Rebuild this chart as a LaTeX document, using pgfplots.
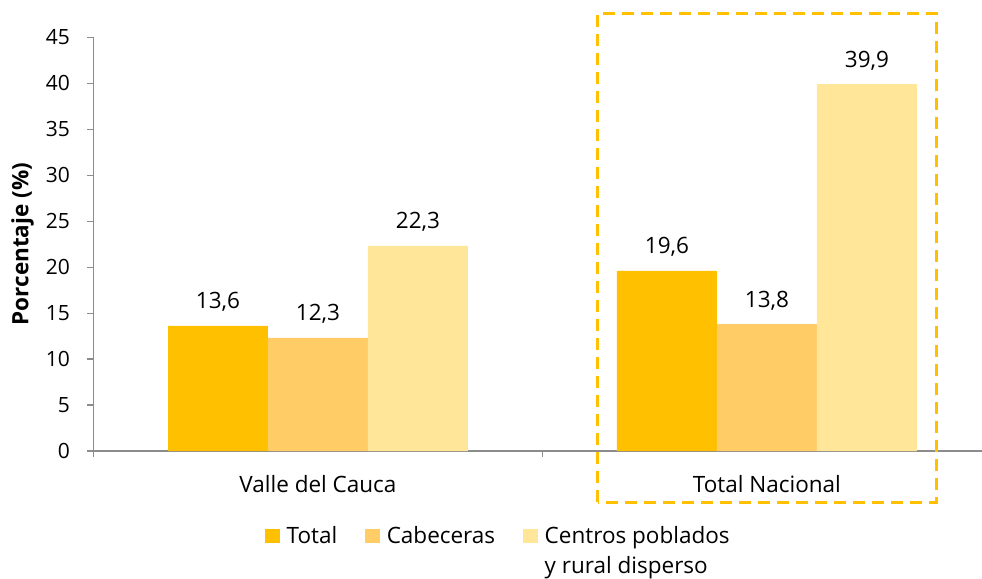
\documentclass[border=0pt]{standalone}
\usepackage{fontspec}
\setmainfont{Open Sans}
\usepackage{pgfplots}
\pgfplotsset{compat=1.18}
\definecolor{cTotal}{HTML}{FFC000}
\definecolor{cCab}{HTML}{FFCC66}
\definecolor{cCen}{HTML}{FFE699}
\definecolor{axgray}{HTML}{8C8C8C}
\begin{document}
\fontsize{22bp}{27bp}\selectfont
\begin{tikzpicture}
\begin{axis}[
  scale only axis, width=888.5bp, height=413.7bp,
  xmin=-0.5, xmax=1.479, ymin=0, ymax=45,
  axis lines=left,
  axis line style={-, draw=axgray, line width=1.2bp},
  x axis line style={shorten <=-6bp},
  tick align=outside,
  ytick={0,5,...,45},
  ytick style={draw=axgray, line width=1.2bp},
  major tick length=6bp,
  xtick={0,1},
  xticklabels={Valle del Cauca, Total Nacional},
  xtick style={draw=none},
  extra x ticks={-0.5,0.5},
  extra x tick labels={},
  extra x tick style={xtick style={draw=axgray, line width=1.2bp}, major tick length=6bp},
  /pgf/number format/assume math mode=true,
  yticklabel style={xshift=-10bp, font=\fontsize{21bp}{25bp}\selectfont},
  xticklabel style={yshift=-11bp, font=\fontsize{22.5bp}{27bp}\selectfont},
  ylabel={\bfseries Porcentaje (\%)},
  ylabel style={at={(axis description cs:-0.08,0.5)}, anchor=center, font=\fontsize{22.5bp}{27bp}\selectfont},
  ybar=0pt, bar width=0.2227,
  clip=false,
  nodes near coords={\pgfmathprintnumber[fixed,fixed zerofill,precision=1,use comma]{\pgfplotspointmeta}},
  every node near coord/.append style={anchor=base, yshift=17bp, font=\fontsize{22.5bp}{27bp}\selectfont, text=black},
  legend columns=3,
  legend style={draw=none, inner sep=0pt, at={(rel axis cs:0.193,0)}, anchor=north west, yshift=-74bp,
    font=\fontsize{22.5bp}{27bp}\selectfont,
    nodes={inner xsep=0pt, inner ysep=1bp, anchor=base west},
    /tikz/every odd column/.append style={column sep=7bp},
    /tikz/every even column/.append style={column sep=28bp}},
  legend image code/.code={\fill[#1] (0bp,0bp) rectangle (14.5bp,14.5bp);},
]
\addplot[fill=cTotal, draw=none] coordinates {(0,13.6) (1,19.6)};
\addplot[fill=cCab, draw=none] coordinates {(0,12.3) (1,13.8)};
\addplot[fill=cCen, draw=none] coordinates {(0,22.3) (1,39.9)};
\legend{Total, Cabeceras, {\vtop{\baselineskip=30bp\hbox{Centros poblados}\hbox{y rural disperso}}}}
\draw[cTotal, line width=3bp, dash pattern=on 12bp off 7bp] (axis cs:0.6236,-5.55) rectangle (axis cs:1.377,47.64);
\end{axis}
\pgfresetboundingbox
\path (-93.5bp,-128bp) rectangle (888.5bp,451bp);
\end{tikzpicture}
\end{document}
